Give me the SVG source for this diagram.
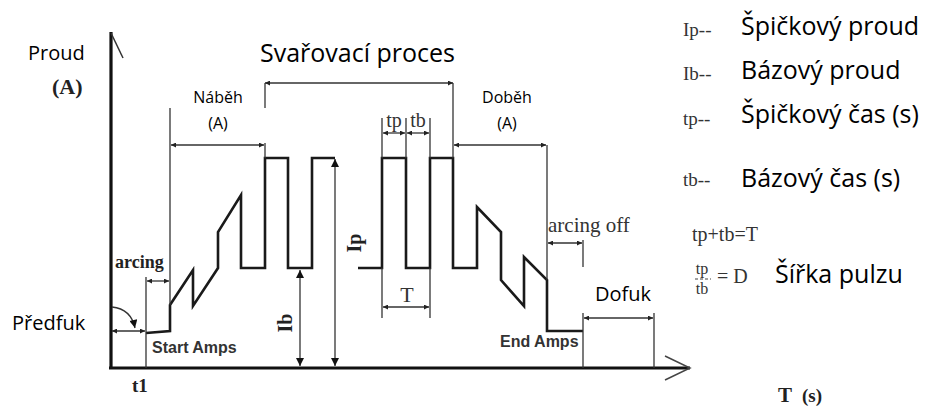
<svg xmlns="http://www.w3.org/2000/svg" width="925" height="408" viewBox="0 0 925 408">
<defs>
<marker id="a" viewBox="0 0 10 10" refX="10" refY="5" markerWidth="7" markerHeight="5" markerUnits="userSpaceOnUse" orient="auto-start-reverse"><path d="M0,0 L10,5 L0,10 z" fill="#222"/></marker>
<marker id="b" viewBox="0 0 10 10" refX="10" refY="5" markerWidth="13" markerHeight="8" markerUnits="userSpaceOnUse" orient="auto-start-reverse"><path d="M0,0 L10,5 L0,10 z" fill="#111"/></marker>
<style>
.s{font-family:"Open Sans","Noto Sans",sans-serif;fill:#000}
.r{font-family:"Liberation Serif","Times New Roman",serif;fill:#333}
.rb{font-family:"Liberation Serif","Times New Roman",serif;font-weight:bold;fill:#222}
.ab{font-family:"Liberation Sans",Arial,sans-serif;font-weight:bold;fill:#333}
.dim{stroke:#333;stroke-width:1.3;fill:none}
.ext{stroke:#333;stroke-width:1.3;fill:none}
.wave{stroke:#1a1a1a;stroke-width:2.6;fill:none;stroke-linejoin:miter}
.axis{stroke:#111;stroke-width:3.2;fill:none}
</style>
</defs>
<rect width="925" height="408" fill="#fff"/>

<g id="axes">
<line class="axis" x1="111" y1="368" x2="111" y2="32"/>
<line x1="111" y1="33" x2="123" y2="58" stroke="#333" stroke-width="1.5"/>
<line class="axis" x1="109" y1="368" x2="690" y2="368"/>
<polyline points="665,356 690,368 665,380" fill="none" stroke="#444" stroke-width="1.5"/>
</g>

<g id="waveform">
<path class="wave" d="M146,333 L170,331 L170,305 L193,270 L193,306 L218,268 L218,232 L241,195 L241,268 L265,268 L265,158 L288,158 L288,268 L312,268 L312,158 L335,158"/>
<path class="wave" d="M358,268 L382,268 L382,158 L406,158 L406,268 L430,268 L430,158 L453,158 L453,268 L477,268 L477,207 L501,232 L501,280 L524,306 L524,257 L547,280 L547,331 L583,331"/>
</g>

<g id="connectors">
<line class="ext" x1="170" y1="108" x2="170" y2="305"/>
<line class="ext" x1="146" y1="277" x2="146" y2="368"/>
<line class="ext" x1="265" y1="83" x2="265" y2="108"/>
<line class="ext" x1="265" y1="143" x2="265" y2="158"/>
<line class="ext" x1="453" y1="83" x2="453" y2="158"/>
<line class="ext" x1="547" y1="145" x2="547" y2="280"/>
<line class="ext" x1="382" y1="118" x2="382" y2="158"/>
<line class="ext" x1="406" y1="118" x2="406" y2="158"/>
<line class="ext" x1="430" y1="118" x2="430" y2="158"/>
<line class="ext" x1="382" y1="268" x2="382" y2="318"/>
<line class="ext" x1="430" y1="268" x2="430" y2="318"/>
<line class="ext" x1="583" y1="240" x2="583" y2="267"/>
<line class="ext" x1="583" y1="313" x2="583" y2="368"/>
<line class="ext" x1="654" y1="313" x2="654" y2="368"/>
<line class="dim" x1="265" y1="83" x2="453" y2="83" marker-start="url(#a)" marker-end="url(#a)"/>
<line class="dim" x1="171" y1="145" x2="264" y2="145" marker-start="url(#a)" marker-end="url(#a)"/>
<line class="dim" x1="454" y1="145" x2="546" y2="145" marker-start="url(#a)" marker-end="url(#a)"/>
<line class="dim" x1="383" y1="133" x2="405" y2="133" marker-start="url(#a)" marker-end="url(#a)"/>
<line class="dim" x1="407" y1="133" x2="429" y2="133" marker-start="url(#a)" marker-end="url(#a)"/>
<line class="dim" x1="383" y1="307" x2="429" y2="307" marker-start="url(#a)" marker-end="url(#a)"/>
<line class="dim" x1="147" y1="281" x2="169" y2="281" marker-start="url(#a)" marker-end="url(#a)"/>
<line class="dim" x1="112" y1="331" x2="145" y2="331" marker-start="url(#a)" marker-end="url(#a)"/>
<line class="dim" x1="548" y1="243" x2="582" y2="243" marker-start="url(#a)" marker-end="url(#a)"/>
<line class="dim" x1="584" y1="318" x2="653" y2="318" marker-start="url(#a)" marker-end="url(#a)"/>
<line class="dim" x1="300" y1="270" x2="300" y2="366" marker-start="url(#b)" marker-end="url(#b)"/>
<line class="dim" x1="335" y1="159" x2="335" y2="366" marker-start="url(#b)" marker-end="url(#b)"/>
<path class="dim" d="M112,307 Q131,309 135,328" marker-end="url(#b)"/>
</g>

<g id="labels">
<text class="s" x="28" y="60" font-size="20">Proud</text>
<text class="rb" x="52" y="94" font-size="22">(A)</text>
<text class="s" x="260" y="62" font-size="25">Svařovací proces</text>
<text class="s" x="218" y="103" font-size="16" text-anchor="middle">Náběh</text>
<text class="s" x="218" y="129" font-size="16" text-anchor="middle">(A)</text>
<text class="s" x="507" y="103" font-size="16" text-anchor="middle">Doběh</text>
<text class="s" x="507" y="129" font-size="16" text-anchor="middle">(A)</text>
<text class="r" x="394" y="127" font-size="20" text-anchor="middle">tp</text>
<text class="r" x="418" y="127" font-size="20" text-anchor="middle">tb</text>
<text class="r" x="407" y="302" font-size="22" text-anchor="middle">T</text>
<text class="rb" x="115" y="268" font-size="18">arcing</text>
<text class="r" x="548" y="232" font-size="21" fill="#444">arcing off</text>
<text class="s" x="595" y="301" font-size="20">Dofuk</text>
<text class="ab" x="500" y="347" font-size="16">End Amps</text>
<text class="ab" x="152" y="353" font-size="16">Start Amps</text>
<text class="s" x="12" y="330" font-size="20">Předfuk</text>
<text class="rb" x="132" y="392" font-size="19">t1</text>
<text class="rb" x="778" y="402" font-size="21">T</text>
<text class="rb" x="802" y="402" font-size="19">(s)</text>
<text class="rb" font-size="20" text-anchor="middle" transform="translate(292,323) rotate(-90)">Ib</text>
<text class="rb" font-size="20" text-anchor="middle" transform="translate(361,243) rotate(-90)">Ip</text>
</g>

<g id="legend">
<text class="r" x="683" y="36" font-size="19" fill="#555">Ip--</text>
<text class="r" x="683" y="80" font-size="19" fill="#555">Ib--</text>
<text class="r" x="683" y="125" font-size="19" fill="#555">tp--</text>
<text class="r" x="683" y="186" font-size="19" fill="#555">tb--</text>
<text class="s" x="741" y="35" font-size="25">Špičkový proud</text>
<text class="s" x="741" y="79" font-size="25">Bázový proud</text>
<text class="s" x="741" y="123" font-size="25">Špičkový čas (s)</text>
<text class="s" x="741" y="187" font-size="25">Bázový čas (s)</text>
<text class="r" x="692" y="241" font-size="20" fill="#444">tp+tb=T</text>
<text class="r" x="702" y="274" font-size="16" fill="#444" text-anchor="middle">tp</text>
<line x1="695" y1="279" x2="711" y2="279" stroke="#444" stroke-width="1.2" stroke-dasharray="3,2"/>
<text class="r" x="702" y="294" font-size="16" fill="#444" text-anchor="middle">tb</text>
<text class="r" x="717" y="283" font-size="20" fill="#444">= D</text>
<text class="s" x="775" y="283" font-size="25">Šířka pulzu</text>
</g>
</svg>
